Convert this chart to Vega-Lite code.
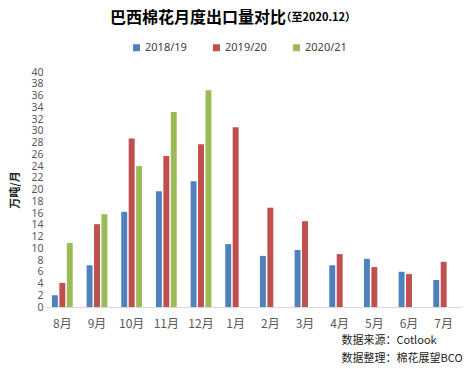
{
  "$schema": "https://vega.github.io/schema/vega-lite/v6.json",
  "width": 416,
  "height": 235,
  "autosize": {"type": "none"},
  "padding": {"left": 45, "top": 72, "right": 4, "bottom": 62},
  "background": "white",
  "title": {
    "text": "巴西棉花月度出口量对比",
    "subtitle": "\u200b\u3000\u3000\u3000\u3000\u3000\u3000\u3000\u3000\u3000\u3000\u3000\u3000\u3000\u3000\u3000\u3000（至2020.12）",
    "anchor": "start",
    "frame": "group",
    "dx": 65,
    "offset": 16,
    "font": "Noto Sans CJK SC",
    "fontSize": 16,
    "fontWeight": "bold",
    "color": "#000000",
    "subtitleFont": "Noto Sans CJK SC",
    "subtitleFontSize": 11,
    "subtitleFontWeight": "bold",
    "subtitleColor": "#000000",
    "subtitlePadding": -14
  },
  "config": {
    "view": {"stroke": null},
    "font": "Noto Sans"
  },
  "data": {
    "values": [
      {"month": "8月", "season": "2018/19", "value": 2.0},
      {"month": "8月", "season": "2019/20", "value": 4.1},
      {"month": "8月", "season": "2020/21", "value": 10.9},
      {"month": "9月", "season": "2018/19", "value": 7.1},
      {"month": "9月", "season": "2019/20", "value": 14.1},
      {"month": "9月", "season": "2020/21", "value": 15.8},
      {"month": "10月", "season": "2018/19", "value": 16.2},
      {"month": "10月", "season": "2019/20", "value": 28.7},
      {"month": "10月", "season": "2020/21", "value": 24.0},
      {"month": "11月", "season": "2018/19", "value": 19.7},
      {"month": "11月", "season": "2019/20", "value": 25.7},
      {"month": "11月", "season": "2020/21", "value": 33.2},
      {"month": "12月", "season": "2018/19", "value": 21.4},
      {"month": "12月", "season": "2019/20", "value": 27.7},
      {"month": "12月", "season": "2020/21", "value": 36.9},
      {"month": "1月", "season": "2018/19", "value": 10.7},
      {"month": "1月", "season": "2019/20", "value": 30.6},
      {"month": "2月", "season": "2018/19", "value": 8.7},
      {"month": "2月", "season": "2019/20", "value": 16.9},
      {"month": "3月", "season": "2018/19", "value": 9.7},
      {"month": "3月", "season": "2019/20", "value": 14.6},
      {"month": "4月", "season": "2018/19", "value": 7.1},
      {"month": "4月", "season": "2019/20", "value": 9.0},
      {"month": "5月", "season": "2018/19", "value": 8.2},
      {"month": "5月", "season": "2019/20", "value": 6.8},
      {"month": "6月", "season": "2018/19", "value": 6.0},
      {"month": "6月", "season": "2019/20", "value": 5.6},
      {"month": "7月", "season": "2018/19", "value": 4.6},
      {"month": "7月", "season": "2019/20", "value": 7.7}
    ]
  },
  "mark": {"type": "bar"},
  "encoding": {
    "x": {
      "field": "month",
      "type": "nominal",
      "sort": ["8月", "9月", "10月", "11月", "12月", "1月", "2月", "3月", "4月", "5月", "6月", "7月"],
      "scale": {"paddingInner": 0.4, "paddingOuter": 0.2},
      "axis": {
        "labelAngle": 0,
        "labelFont": "Noto Sans CJK SC",
        "labelFontSize": 12,
        "labelColor": "#595959",
        "labelPadding": 11,
        "ticks": false,
        "domainColor": "#d9d9d9",
        "title": ["数据来源：Cotlook", "数据整理：棉花展望BCO"],
        "titleFont": "Noto Sans CJK SC",
        "titleFontSize": 11,
        "titleFontWeight": "normal",
        "titleColor": "#222222",
        "titleAlign": "left",
        "titleAnchor": "start",
        "titleBaseline": "top",
        "titleX": 296,
        "titleY": 27,
        "titleLineHeight": 18
      }
    },
    "xOffset": {
      "field": "season",
      "type": "nominal",
      "scale": {"domain": ["2018/19", "2019/20", "2020/21"], "paddingInner": 0.2, "paddingOuter": 0}
    },
    "y": {
      "field": "value",
      "type": "quantitative",
      "scale": {"domain": [0, 40], "nice": false},
      "axis": {
        "values": [0, 2, 4, 6, 8, 10, 12, 14, 16, 18, 20, 22, 24, 26, 28, 30, 32, 34, 36, 38, 40],
        "grid": false,
        "domain": false,
        "ticks": false,
        "labelFontSize": 10.5,
        "labelColor": "#595959",
        "labelPadding": 2,
        "labelOverlap": false,
        "title": "万吨/月",
        "titleFont": "Noto Sans CJK SC",
        "titleFontSize": 11,
        "titleFontWeight": "bold",
        "titleColor": "#222222",
        "titlePadding": 10
      }
    },
    "color": {
      "field": "season",
      "type": "nominal",
      "scale": {"domain": ["2018/19", "2019/20", "2020/21"], "range": ["#4F81BD", "#C0504D", "#9BBB59"]},
      "legend": {
        "title": null,
        "orient": "none",
        "direction": "horizontal",
        "legendX": 86,
        "legendY": -30,
        "symbolType": "square",
        "symbolSize": 49,
        "symbolStrokeWidth": 0,
        "labelFontSize": 11,
        "labelColor": "#404040",
        "labelOffset": 3,
        "columnPadding": 24
      }
    }
  }
}
